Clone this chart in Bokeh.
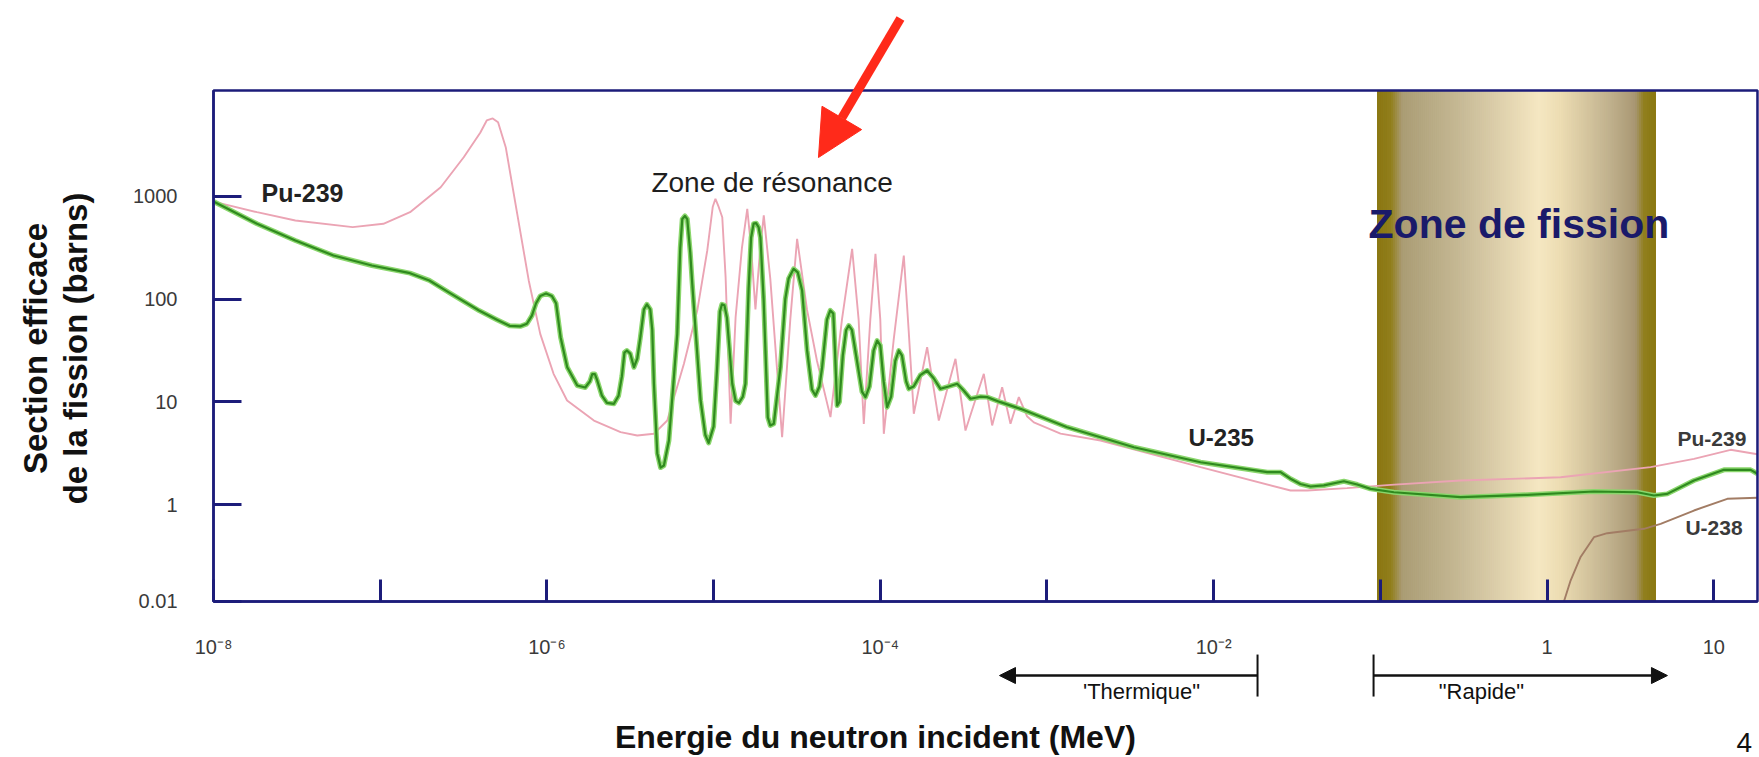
import numpy as np
from bokeh.plotting import figure
from bokeh.models import Range1d, FixedTicker, Label, Arrow, NormalHead, TeeHead
from bokeh.embed import file_html
from bokeh.resources import INLINE

# ---------------- data (log10 of energy in MeV, log10 of cross-section in barns) ----------------
u235_log_e = [-8.000, -7.739, -7.509, -7.280, -7.050, -6.821, -6.705, -6.591, -6.407, -6.300,
              -6.224, -6.160, -6.120, -6.090, -6.065, -6.040, -6.005, -5.970, -5.945, -5.918,
              -5.878, -5.818, -5.770, -5.742, -5.728, -5.712, -5.698, -5.670, -5.640, -5.598,
              -5.570, -5.550, -5.535, -5.520, -5.500, -5.478, -5.458, -5.440, -5.418, -5.400,
              -5.380, -5.368, -5.358, -5.338, -5.318, -5.298, -5.268, -5.218, -5.200, -5.188,
              -5.172, -5.158, -5.140, -5.128, -5.078, -5.050, -5.030, -5.000, -4.980, -4.962,
              -4.950, -4.935, -4.920, -4.888, -4.868, -4.848, -4.825, -4.809, -4.790, -4.775,
              -4.760, -4.745, -4.730, -4.719, -4.700, -4.689, -4.675, -4.660, -4.639, -4.599,
              -4.570, -4.550, -4.520, -4.495, -4.469, -4.439, -4.410, -4.389, -4.365, -4.349,
              -4.320, -4.300, -4.282, -4.272, -4.259, -4.245, -4.225, -4.205, -4.189, -4.170,
              -4.140, -4.110, -4.089, -4.065, -4.040, -4.019, -4.000, -3.980, -3.959, -3.935,
              -3.910, -3.889, -3.870, -3.845, -3.829, -3.800, -3.760, -3.719, -3.680, -3.639,
              -3.590, -3.539, -3.500, -3.459, -3.400, -3.359, -3.279, -3.159, -2.879, -2.479,
              -2.079, -1.679, -1.599, -1.539, -1.480, -1.419, -1.339, -1.219, -1.139, -1.059,
              -0.919, -0.519, -0.119, 0.281, 0.541, 0.641, 0.721, 0.881, 1.061, 1.221, 1.262]
u235_log_sigma = [2.950, 2.734, 2.571, 2.425, 2.328, 2.253, 2.182, 2.068, 1.889, 1.800,
                  1.740, 1.735, 1.760, 1.840, 1.960, 2.030, 2.055, 2.030, 1.960, 1.630,
                  1.337, 1.159, 1.140, 1.200, 1.270, 1.270, 1.208, 1.060, 0.990, 0.981,
                  1.060, 1.250, 1.480, 1.500, 1.470, 1.337, 1.420, 1.620, 1.900, 1.950,
                  1.900, 1.700, 1.176, 0.500, 0.360, 0.380, 0.624, 1.662, 2.500, 2.780,
                  2.810, 2.780, 2.450, 2.149, 1.013, 0.680, 0.600, 0.760, 1.300, 1.880,
                  1.950, 1.940, 1.820, 1.176, 1.010, 0.990, 1.050, 1.176, 2.100, 2.600,
                  2.735, 2.740, 2.700, 2.600, 2.000, 1.500, 0.850, 0.770, 0.786, 1.337,
                  2.000, 2.200, 2.295, 2.260, 2.084, 1.500, 1.120, 1.062, 1.150, 1.337,
                  1.800, 1.890, 1.860, 1.500, 0.964, 1.000, 1.450, 1.700, 1.743, 1.700,
                  1.400, 1.100, 1.046, 1.150, 1.500, 1.597, 1.550, 1.200, 0.948, 1.050,
                  1.400, 1.500, 1.450, 1.200, 1.127, 1.150, 1.260, 1.305, 1.230, 1.127,
                  1.150, 1.176, 1.110, 1.030, 1.050, 1.046, 0.997, 0.932, 0.753, 0.558,
                  0.412, 0.315, 0.315, 0.251, 0.200, 0.176, 0.186, 0.227, 0.195, 0.153,
                  0.120, 0.072, 0.095, 0.127, 0.120, 0.088, 0.104, 0.234, 0.338, 0.338, 0.300]

pu239_log_e = [-8.000, -7.739, -7.509, -7.165, -6.981, -6.821, -6.637, -6.499, -6.400, -6.361,
               -6.325, -6.293, -6.247, -6.178, -6.109, -6.040, -5.960, -5.879, -5.718, -5.558,
               -5.458, -5.358, -5.278, -5.178, -5.098, -5.038, -5.005, -4.989, -4.970, -4.948,
               -4.928, -4.898, -4.868, -4.830, -4.798, -4.775, -4.749, -4.720, -4.699, -4.660,
               -4.589, -4.540, -4.499, -4.440, -4.380, -4.299, -4.230, -4.169, -4.130, -4.099,
               -4.060, -4.029, -4.000, -3.979, -3.920, -3.859, -3.830, -3.799, -3.719, -3.649,
               -3.549, -3.489, -3.379, -3.329, -3.269, -3.219, -3.169, -3.120, -3.079, -2.919,
               -2.679, -2.079, -1.539, -1.439, -1.200, -0.939, -0.519, 0.081, 0.621, 0.881,
               1.101, 1.262]
pu239_log_sigma = [2.950, 2.847, 2.766, 2.701, 2.734, 2.847, 3.090, 3.382, 3.620, 3.740,
                   3.760, 3.723, 3.480, 2.831, 2.182, 1.662, 1.273, 1.013, 0.818, 0.705,
                   0.672, 0.689, 0.818, 1.370, 1.889, 2.474, 2.900, 2.977, 2.900, 2.798,
                   2.214, 0.786, 1.824, 2.500, 2.880, 2.500, 1.900, 2.500, 2.815, 2.200,
                   0.656, 1.800, 2.588, 1.900, 1.400, 0.851, 1.800, 2.490, 1.800, 0.786,
                   1.800, 2.441, 1.800, 0.689, 1.600, 2.425, 1.700, 0.884, 1.532, 0.818,
                   1.419, 0.721, 1.273, 0.770, 1.143, 0.786, 1.046, 0.860, 0.800, 0.690,
                   0.624, 0.364, 0.137, 0.137, 0.160, 0.192, 0.234, 0.266, 0.364, 0.445,
                   0.533, 0.490]

u238_log_e = [0.101, 0.141, 0.201, 0.281, 0.361, 0.581, 0.681, 0.881, 1.081, 1.262]
u238_log_sigma = [-0.944, -0.740, -0.510, -0.318, -0.279, -0.236, -0.188, -0.058, 0.056, 0.066]

fission_zone_mev = [0.0961, 4.47]             # shaded "Zone de fission"
thermique_mev = [10 ** -3.285, 10 ** -1.737]  # arrow 'Thermique'
rapide_mev = [10 ** -1.041, 10 ** 0.722]      # arrow "Rapide"

x_tick_values = [1e-8, 1e-7, 1e-6, 1e-5, 1e-4, 1e-3, 1e-2, 1e-1, 1.0, 10.0]
x_tick_labels = ["10\u207b\u2078", "", "10\u207b\u2076", "", "10\u207b\u2074", "",
                 "10\u207b\u00b2", "", "1", "10"]
y_bottom = 0.114
y_top = 10 ** 4.032
x_left = 1e-8
x_right = 10 ** 1.262
y_tick_values = [y_bottom, 1.0, 10.0, 100.0, 1000.0]
y_tick_labels = ["0.01", "1", "10", "100", "1000"]

# ---------------- figure: the frame covers the whole canvas, the plot box is drawn inside ----------------
NAVY = "#1c1c7a"
FONT = "Liberation Sans"

p = figure(width=1759, height=757, x_axis_type="log", y_axis_type="log",
           x_range=Range1d(10 ** -9.2778, 10 ** 1.2742), y_range=Range1d(10 ** -2.4630, 10 ** 4.9080),
           output_backend="svg", toolbar_location=None,
           min_border_left=0, min_border_right=0, min_border_top=0, min_border_bottom=0)
p.grid.visible = False
p.background_fill_color = "white"
p.border_fill_color = "white"
p.outline_line_color = None

xa = p.xaxis[0]
xa.fixed_location = y_bottom
xa.bounds = (x_left, x_right)
xa.ticker = FixedTicker(ticks=x_tick_values)
xa.major_label_overrides = {v: t for v, t in zip(x_tick_values, x_tick_labels)}
xa.major_tick_in = 22
xa.major_tick_out = 0
xa.minor_tick_in = 0
xa.minor_tick_out = 0
xa.axis_line_color = NAVY
xa.axis_line_width = 2.5
xa.major_tick_line_color = NAVY
xa.major_tick_line_width = 3
xa.major_label_text_font = FONT
xa.major_label_text_font_size = "20px"
xa.major_label_text_color = "#3a3a3a"
xa.major_label_standoff = 35

ya = p.yaxis[0]
ya.fixed_location = x_left
ya.bounds = (y_bottom, y_top)
ya.ticker = FixedTicker(ticks=y_tick_values)
ya.major_label_overrides = {v: t for v, t in zip(y_tick_values, y_tick_labels)}
ya.major_tick_in = 28
ya.major_tick_out = 0
ya.minor_tick_in = 0
ya.minor_tick_out = 0
ya.axis_line_color = NAVY
ya.axis_line_width = 2.5
ya.major_tick_line_color = NAVY
ya.major_tick_line_width = 3
ya.major_label_text_font = FONT
ya.major_label_text_font_size = "20px"
ya.major_label_text_color = "#3a3a3a"
ya.major_label_standoff = 36

# ---------------- fission zone band (gradient made of thin strips) ----------------
stops = [(0.00, "#8a7812"), (0.05, "#927f1c"), (0.09, "#aa9c74"), (0.30, "#c6b995"),
         (0.58, "#f5e7c2"), (0.66, "#ecdcb2"), (0.84, "#bfb08c"), (0.93, "#a89672"),
         (0.96, "#917f1e"), (1.00, "#8a7812")]


def hex2rgb(h):
    return np.array([int(h[i:i + 2], 16) for i in (1, 3, 5)], dtype=float)


def grad(t):
    for (t0, c0), (t1, c1) in zip(stops[:-1], stops[1:]):
        if t <= t1:
            f = (t - t0) / (t1 - t0) if t1 > t0 else 0
            c = hex2rgb(c0) * (1 - f) + hex2rgb(c1) * f
            return "#%02x%02x%02x" % tuple(int(round(v)) for v in c)
    return stops[-1][1]


nstrip = 140
b0, b1 = np.log10(fission_zone_mev[0]), np.log10(fission_zone_mev[1])
edges = np.linspace(b0, b1, nstrip + 1)
cols = [grad((i + 0.5) / nstrip) for i in range(nstrip)]
p.quad(left=10 ** edges[:-1], right=10 ** edges[1:], bottom=y_bottom, top=y_top,
       fill_color=cols, line_color=cols, line_width=1)

# ---------------- curves ----------------
p.line(10 ** np.array(pu239_log_e), 10 ** np.array(pu239_log_sigma),
       line_color="#eba4b4", line_width=1.9)
p.line(10 ** np.array(u238_log_e), 10 ** np.array(u238_log_sigma),
       line_color="#a27c64", line_width=1.9)
u235_e = 10 ** np.array(u235_log_e)
u235_s = 10 ** np.array(u235_log_sigma)
p.line(u235_e, u235_s, line_color="#8ad66c", line_width=5, line_join="round")
p.line(u235_e, u235_s, line_color="#2f8a1f", line_width=2.2, line_join="round")

# plot box (top and right edges; left/bottom are the axes)
p.quad(left=x_left, right=x_right, bottom=y_bottom, top=y_top,
       fill_color=None, line_color=NAVY, line_width=2.5)


# ---------------- texts ----------------
def lab(lx, ly, text, size, bold=False, color="#222222", align="left", baseline="middle", angle=0.0):
    p.add_layout(Label(x=10 ** lx, y=10 ** ly, text=text, text_font=FONT,
                       text_font_size=size, text_font_style="bold" if bold else "normal",
                       text_color=color, text_align=align, text_baseline=baseline, angle=angle))


lab(-7.712, 3.029, "Pu-239", "25px", bold=True)
lab(-5.373, 3.140, "Zone de r\u00e9sonance", "28px", color="#1e1e1e")
lab(-2.151, 0.653, "U-235", "24px", bold=True)
lab(-1.071, 2.727, "Zone de fission", "41px", bold=True, color="#1a1a6a")
lab(0.782, 0.643, "Pu-239", "21px", bold=True, color="#3a3a3a")
lab(0.830, -0.223, "U-238", "21px", bold=True, color="#3a3a3a")

lab(-9.068, 1.520, "Section efficace", "33px", bold=True, color="#111111",
    align="center", angle=np.pi / 2)
lab(-8.830, 1.520, "de la fission (barns)", "33px", bold=True, color="#111111",
    align="center", angle=np.pi / 2)
lab(-4.029, -2.259, "Energie du neutron incident (MeV)", "32px", bold=True,
    color="#111111", align="center", baseline="middle")
lab(-2.433, -1.820, "'Thermique\"", "22px", color="#111111", align="center")
lab(-0.394, -1.820, "\"Rapide\"", "22px", color="#111111", align="center")
lab(1.136, -2.228, "4", "28px", color="#111111", align="left", baseline="top")

# red arrow pointing at the resonance zone
RED = "#ff2a1a"
p.add_layout(Arrow(end=NormalHead(size=46, fill_color=RED, line_color=RED),
                   x_start=10 ** -3.879, y_start=10 ** 4.733,
                   x_end=10 ** -4.371, y_end=10 ** 3.379,
                   line_color=RED, line_width=9))

# energy domain arrows
ly_ar = 10 ** -1.665
for xs, xe in [(thermique_mev[1], thermique_mev[0]), (rapide_mev[0], rapide_mev[1])]:
    p.add_layout(Arrow(start=TeeHead(size=42, line_color="#111111", line_width=2),
                       end=NormalHead(size=16, fill_color="#111111", line_color="#111111"),
                       x_start=xs, y_start=ly_ar, x_end=xe, y_end=ly_ar,
                       line_color="#111111", line_width=2.5))

open("out.html", "w").write(file_html(p, INLINE))
